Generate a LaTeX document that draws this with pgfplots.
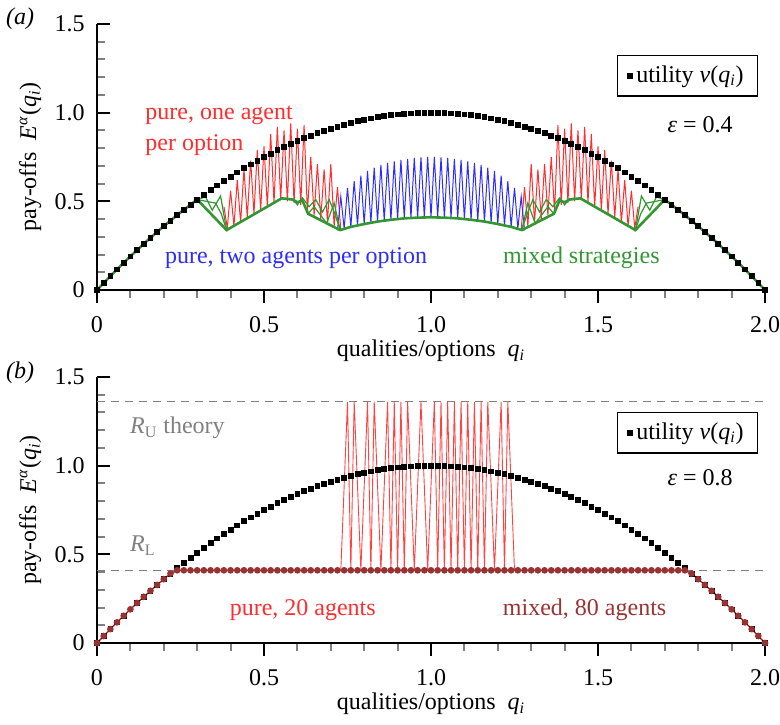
\documentclass[border=0pt,12pt]{standalone}
\usepackage{fontspec}
\setmainfont{Liberation Serif}
\usepackage{pgfplots}
\usepackage{pgfplotstable}
\pgfplotsset{compat=1.18}
\definecolor{cred}{RGB}{255,45,45}
\definecolor{cblue}{RGB}{45,45,255}
\definecolor{cgreen}{RGB}{50,150,50}
\definecolor{cbrown}{RGB}{153,51,51}
\definecolor{cgrey}{RGB}{128,128,128}

\pgfplotstableread{
q v w
0.00 0 0
0.02 0.0396 0.0396
0.04 0.0784 0.0784
0.06 0.1164 0.1164
0.08 0.1536 0.1536
0.10 0.19 0.19
0.12 0.2256 0.2256
0.14 0.2604 0.2604
0.16 0.2944 0.2944
0.18 0.3276 0.3276
0.20 0.36 0.36
0.22 0.3916 0.3916
0.24 0.4224 0.41
0.26 0.4524 0.41
0.28 0.4816 0.41
0.30 0.51 0.41
0.32 0.5376 0.41
0.34 0.5644 0.41
0.36 0.5904 0.41
0.38 0.6156 0.41
0.40 0.64 0.41
0.42 0.6636 0.41
0.44 0.6864 0.41
0.46 0.7084 0.41
0.48 0.7296 0.41
0.50 0.75 0.41
0.52 0.7696 0.41
0.54 0.7884 0.41
0.56 0.8064 0.41
0.58 0.8236 0.41
0.60 0.84 0.41
0.62 0.8556 0.41
0.64 0.8704 0.41
0.66 0.8844 0.41
0.68 0.8976 0.41
0.70 0.91 0.41
0.72 0.9216 0.41
0.74 0.9324 0.41
0.76 0.9424 0.41
0.78 0.9516 0.41
0.80 0.96 0.41
0.82 0.9676 0.41
0.84 0.9744 0.41
0.86 0.9804 0.41
0.88 0.9856 0.41
0.90 0.99 0.41
0.92 0.9936 0.41
0.94 0.9964 0.41
0.96 0.9984 0.41
0.98 0.9996 0.41
1.00 1 0.41
1.02 0.9996 0.41
1.04 0.9984 0.41
1.06 0.9964 0.41
1.08 0.9936 0.41
1.10 0.99 0.41
1.12 0.9856 0.41
1.14 0.9804 0.41
1.16 0.9744 0.41
1.18 0.9676 0.41
1.20 0.96 0.41
1.22 0.9516 0.41
1.24 0.9424 0.41
1.26 0.9324 0.41
1.28 0.9216 0.41
1.30 0.91 0.41
1.32 0.8976 0.41
1.34 0.8844 0.41
1.36 0.8704 0.41
1.38 0.8556 0.41
1.40 0.84 0.41
1.42 0.8236 0.41
1.44 0.8064 0.41
1.46 0.7884 0.41
1.48 0.7696 0.41
1.50 0.75 0.41
1.52 0.7296 0.41
1.54 0.7084 0.41
1.56 0.6864 0.41
1.58 0.6636 0.41
1.60 0.64 0.41
1.62 0.6156 0.41
1.64 0.5904 0.41
1.66 0.5644 0.41
1.68 0.5376 0.41
1.70 0.51 0.41
1.72 0.4816 0.41
1.74 0.4524 0.41
1.76 0.4224 0.41
1.78 0.3916 0.3916
1.80 0.36 0.36
1.82 0.3276 0.3276
1.84 0.2944 0.2944
1.86 0.2604 0.2604
1.88 0.2256 0.2256
1.90 0.19 0.19
1.92 0.1536 0.1536
1.94 0.1164 0.1164
1.96 0.0784 0.0784
1.98 0.0396 0.0396
2.00 0 0
}\util

\pgfplotsset{myaxis/.style={
  width=334pt, height=133pt, scale only axis,
  xmin=0, xmax=2, ymin=0, ymax=1.5,
  axis x line*=bottom, axis y line*=left,
  axis line style={-, line width=1pt},
  xtick={0,0.5,1,1.5,2}, xticklabels={0,0.5,1.0,1.5,2.0},
  ytick={0,0.5,1,1.5}, yticklabels={0,0.5,1.0,1.5},
  minor x tick num=4, minor y tick num=4,
  tick align=inside,
  major tick length=6.5pt, minor tick length=3.8pt,
  every major tick/.append style={line width=1pt, black},
  every minor tick/.append style={line width=1pt, cgrey},
  major x tick style={yshift=-6.5pt},
  minor x tick style={yshift=-3.8pt},
  xticklabel shift=9pt,
  yticklabel style={xshift=-2pt},
  /pgf/number format/assume math mode=true,
  clip=false,
  ylabel={pay-offs\ \ \textit{E}\textsuperscript{\textit{α}}(\textit{q}\textsubscript{\textit{i}})},
  ylabel style={at={(axis description cs:-0.1,0.5)}, anchor=center},
  legend style={draw=black, line width=0.6pt, inner xsep=5pt, inner ysep=3pt, anchor=north east},
  legend cell align=left,
}}

\begin{document}
\begin{tikzpicture}
% ---------------- panel (a)
\begin{axis}[myaxis, legend style={at={(rel axis cs:0.99,0.883)}}]
\addplot[cred, line width=0.5pt, forget plot] coordinates {
(0.38,0.47)(0.39,0.35)(0.40,0.56)(0.41,0.36)(0.42,0.62)(0.43,0.38)(0.44,0.68)(0.45,0.41)(0.46,0.73)(0.47,0.43)
(0.48,0.79)(0.49,0.45)(0.50,0.81)(0.51,0.47)(0.52,0.88)(0.53,0.49)(0.54,0.92)(0.55,0.51)(0.56,0.90)(0.57,0.50)
(0.58,0.94)(0.59,0.49)(0.60,0.91)(0.61,0.48)(0.62,0.93)(0.63,0.44)(0.64,0.75)(0.65,0.42)(0.66,0.71)(0.67,0.40)
(0.68,0.68)(0.69,0.38)(0.70,0.71)(0.71,0.36)(0.72,0.58)(0.73,0.34)};
\addplot[cred, line width=0.5pt, forget plot] coordinates {
(1.27,0.34)(1.28,0.58)(1.29,0.36)(1.30,0.71)(1.31,0.38)(1.32,0.68)(1.33,0.40)(1.34,0.71)(1.35,0.42)(1.36,0.75)
(1.37,0.44)(1.38,0.93)(1.39,0.48)(1.40,0.91)(1.41,0.49)(1.42,0.94)(1.43,0.50)(1.44,0.90)(1.45,0.51)(1.46,0.92)
(1.47,0.49)(1.48,0.88)(1.49,0.47)(1.50,0.81)(1.51,0.45)(1.52,0.79)(1.53,0.43)(1.54,0.73)(1.55,0.41)(1.56,0.68)
(1.57,0.38)(1.58,0.62)(1.59,0.36)(1.60,0.56)(1.61,0.35)(1.62,0.47)};
\addplot[cblue, line width=0.5pt, forget plot] coordinates {
(0.72,0.336)(0.73,0.526)(0.74,0.346)(0.75,0.576)(0.76,0.356)(0.77,0.614)(0.78,0.364)(0.79,0.645)(0.80,0.372)
(0.81,0.671)(0.82,0.379)(0.83,0.690)(0.84,0.386)(0.85,0.706)(0.86,0.392)(0.87,0.717)(0.88,0.396)(0.89,0.725)
(0.90,0.400)(0.91,0.733)(0.92,0.404)(0.93,0.740)(0.94,0.407)(0.95,0.745)(0.96,0.408)(0.97,0.748)(0.98,0.410)
(0.99,0.750)(1.00,0.410)(1.01,0.750)(1.02,0.410)(1.03,0.748)(1.04,0.408)(1.05,0.745)(1.06,0.407)(1.07,0.740)
(1.08,0.404)(1.09,0.733)(1.10,0.400)(1.11,0.725)(1.12,0.396)(1.13,0.717)(1.14,0.392)(1.15,0.706)(1.16,0.386)
(1.17,0.690)(1.18,0.379)(1.19,0.671)(1.20,0.372)(1.21,0.645)(1.22,0.364)(1.23,0.614)(1.24,0.356)(1.25,0.576)
(1.26,0.346)(1.27,0.526)(1.28,0.336)};
\addplot[only marks, mark=square*, mark size=1.2pt, black] table[x=q, y=v] {\util};
\addlegendentry{utility \textit{v}(\textit{q}\textsubscript{\textit{i}})}
% thin green
\addplot[cgreen, line width=0.6pt, forget plot] coordinates {(0.30,0.51)(0.325,0.525)(0.345,0.45)(0.37,0.53)(0.388,0.338)};
\addplot[cgreen, line width=0.6pt, forget plot] coordinates {(0.30,0.51)(0.355,0.49)(0.372,0.43)(0.388,0.338)};
\addplot[cgreen, line width=0.6pt, forget plot] coordinates {(0.553,0.517)(0.585,0.515)(0.60,0.48)(0.615,0.52)(0.635,0.47)(0.655,0.51)(0.675,0.44)(0.695,0.51)(0.712,0.43)(0.728,0.338)};
\addplot[cgreen, line width=0.6pt, forget plot] coordinates {(0.632,0.43)(0.65,0.47)(0.688,0.376)(0.71,0.49)(0.728,0.338)};
\addplot[cgreen, line width=0.6pt, forget plot] coordinates {(1.70,0.51)(1.675,0.525)(1.655,0.45)(1.63,0.53)(1.612,0.338)};
\addplot[cgreen, line width=0.6pt, forget plot] coordinates {(1.70,0.51)(1.645,0.49)(1.628,0.43)(1.612,0.338)};
\addplot[cgreen, line width=0.6pt, forget plot] coordinates {(1.447,0.517)(1.415,0.515)(1.40,0.48)(1.385,0.52)(1.365,0.47)(1.345,0.51)(1.325,0.44)(1.305,0.51)(1.288,0.43)(1.272,0.338)};
\addplot[cgreen, line width=0.6pt, forget plot] coordinates {(1.368,0.43)(1.35,0.47)(1.312,0.376)(1.29,0.49)(1.272,0.338)};
% thick green
\addplot[cgreen, line width=1.3pt, forget plot] coordinates {
(0,0)(0.05,0.0975)(0.10,0.19)(0.15,0.2775)(0.20,0.36)(0.25,0.4375)(0.30,0.51)(0.388,0.338)(0.553,0.517)
(0.585,0.51)(0.60,0.495)(0.615,0.505)(0.632,0.43)(0.688,0.376)(0.728,0.338)(0.76,0.356)(0.80,0.372)
(0.84,0.386)(0.88,0.396)(0.92,0.404)(0.96,0.408)(1.00,0.41)(1.04,0.408)(1.08,0.404)(1.12,0.396)
(1.16,0.386)(1.20,0.372)(1.24,0.356)(1.272,0.338)(1.312,0.376)(1.368,0.43)(1.385,0.505)(1.40,0.495)
(1.415,0.51)(1.447,0.517)(1.612,0.338)(1.70,0.51)(1.75,0.4375)(1.80,0.36)(1.85,0.2775)(1.90,0.19)
(1.95,0.0975)(2,0)};
\node at (rel axis cs:-0.115,1.02) {\textit{(a)}};
\node at (rel axis cs:0.5,-0.23) {qualities/options\ \ \textit{q}\textsubscript{\textit{i}}};
\node[anchor=west, align=left, cred] at (rel axis cs:0.06,0.598) {pure, one agent\\[1pt]per option};
\node[cblue] at (rel axis cs:0.298,0.12) {pure, two agents per option};
\node[cgreen] at (rel axis cs:0.725,0.12) {mixed strategies};
\node at (rel axis cs:0.903,0.62) {\textit{ε} = 0.4};
\end{axis}
% ---------------- panel (b)
\begin{axis}[myaxis, at={(0,-176.5pt)}, legend style={at={(rel axis cs:0.99,0.868)}}]
\addplot[cgrey, dashed, dash pattern=on 4pt off 3pt, line width=0.6pt, forget plot] coordinates {(0,1.36)(2,1.36)};
\addplot[cgrey, dashed, dash pattern=on 4pt off 3pt, line width=0.6pt, forget plot] coordinates {(0,0.41)(2,0.41)};
\addplot[cred!90, line width=0.45pt, forget plot] coordinates {
(0.73,0.41)(0.75,1.36)(0.76,0.41)(0.77,1.36)(0.79,0.41)(0.81,1.36)(0.82,0.41)(0.83,1.36)(0.85,0.41)(0.87,1.36)
(0.88,0.41)(0.89,1.36)(0.90,0.41)(0.91,1.36)(0.92,0.41)(0.93,1.36)(0.95,0.41)(0.97,1.36)(0.99,0.41)(1.01,1.36)
(1.02,0.41)(1.03,1.36)(1.04,0.41)(1.05,1.36)(1.06,0.41)(1.07,1.36)(1.08,0.41)(1.09,1.36)(1.10,0.41)(1.11,1.36)
(1.12,0.41)(1.13,1.36)(1.14,0.41)(1.15,1.36)(1.16,0.41)(1.17,1.36)(1.19,0.41)(1.21,1.36)(1.22,0.41)(1.23,1.36)
(1.25,0.41)};
\addplot[only marks, mark=square*, mark size=1.2pt, black] table[x=q, y=v] {\util};
\addlegendentry{utility \textit{v}(\textit{q}\textsubscript{\textit{i}})}
\addplot[cbrown, line width=0.7pt, mark=*, mark size=1.3pt, forget plot] table[x=q, y=w] {\util};
\node at (rel axis cs:-0.115,1.015) {\textit{(b)}};
\node at (rel axis cs:0.5,-0.23) {qualities/options\ \ \textit{q}\textsubscript{\textit{i}}};
\node[anchor=west, cgrey] at (rel axis cs:0.037,0.808) {\textit{R}\textsubscript{U} theory};
\node[anchor=west, cgrey] at (rel axis cs:0.037,0.365) {\textit{R}\textsubscript{L}};
\node[cred] at (rel axis cs:0.308,0.124) {pure, 20 agents};
\node[cbrown] at (rel axis cs:0.73,0.124) {mixed, 80 agents};
\node at (rel axis cs:0.903,0.62) {\textit{ε} = 0.8};
\end{axis}
\pgfresetboundingbox
\useasboundingbox (-48.5pt,-217pt) rectangle (341.5pt,145pt);
\end{tikzpicture}
\end{document}
